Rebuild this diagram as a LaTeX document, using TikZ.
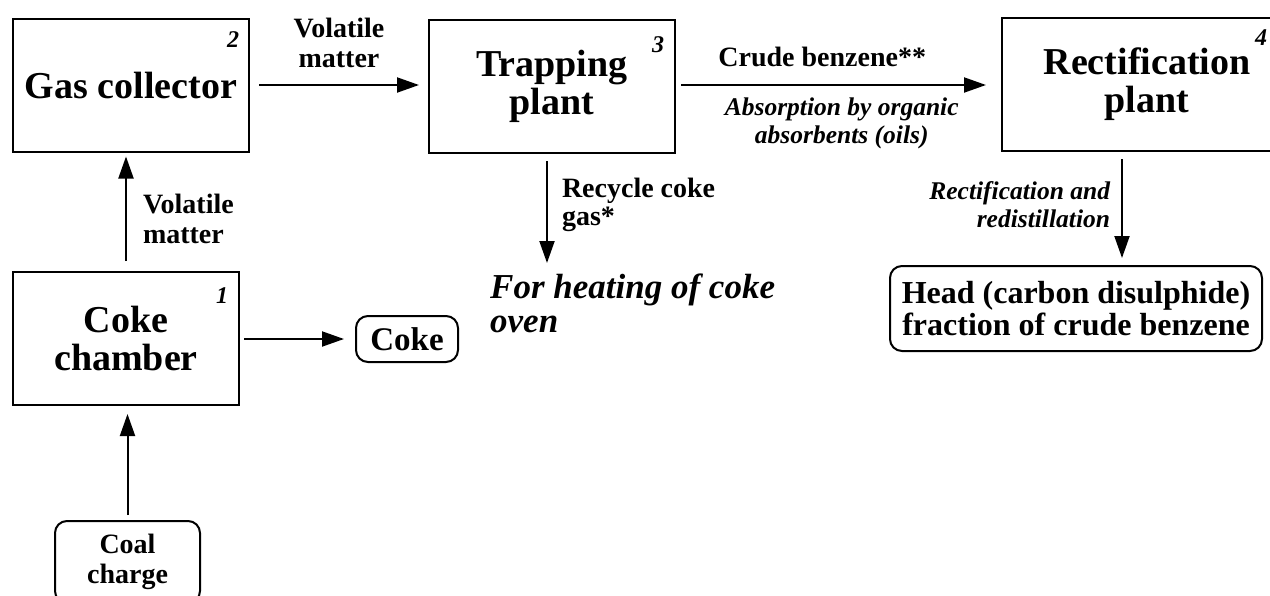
\documentclass[tikz,border=0pt]{standalone}
\usepackage{fontspec}
\setmainfont{Liberation Serif}
\usetikzlibrary{arrows.meta,positioning,calc}

\begin{document}
\begin{tikzpicture}[
        x=1pt, y=-1pt,
        unit/.style={
            draw=black,
            line width=2pt,
            align=center,
            inner sep=0pt,
            font=\fontsize{38}{38}\selectfont\bfseries
        },
        stream/.style={
            draw=black,
            line width=2pt,
            rounded corners=12pt,
            align=center,
            inner sep=0pt,
            font=\fontsize{32}{32}\selectfont\bfseries
        },
        flow/.style={line width=2pt, -{Triangle[length=22pt, width=15pt]}},
        lbl/.style={align=left, inner sep=0pt, font=\fontsize{28}{30}\selectfont\bfseries},
        note/.style={inner sep=0pt, font=\fontsize{25.5}{28}\selectfont\bfseries\itshape},
        num/.style={inner sep=0pt, font=\fontsize{24}{24}\selectfont\bfseries\itshape}
    ]
        \useasboundingbox (0,0) rectangle (1270,595);
        \fill[white] (0,0) rectangle (1270,595);

        \node[unit, minimum width=236, minimum height=133] (gas)     at (131,85)    {Gas collector};
        \node[unit, minimum width=246, minimum height=133] (trap)    at (552,86.5)  {Trapping\\plant};
        \node[unit, minimum width=290, minimum height=133] (rect)    at (1147,84.5) {Rectification\\plant};
        \node[unit, minimum width=226, minimum height=133] (chamber) at (126,338.5) {Coke\\chamber};

        \node[stream, minimum width=145, minimum height=82, font=\fontsize{28}{30}\selectfont\bfseries] (coal) at (127.5,562) {Coal\\charge};
        \node[stream, minimum width=102, minimum height=46, font=\fontsize{33}{33}\selectfont\bfseries] (coke) at (407,339) {Coke};
        \node[stream, minimum width=372, minimum height=85] (head) at (1076,308.5) {Head (carbon disulphide)\\fraction of crude benzene};

        \node[anchor=north west, inner sep=0pt, align=left, font=\fontsize{35}{34}\selectfont\bfseries\itshape] (heat) at (490,274) {For heating of coke\\oven};

        \node[num] (n1) at (222,296) {1};
        \node[num] (n2) at (233,40)  {2};
        \node[num] (n3) at (658,45)  {3};
        \node[num] (n4) at (1261,38) {4};

        \draw[flow, shorten <=10pt, shorten >=4pt] (chamber.north) -- (chamber.north |- gas.south)
            node[lbl, pos=0.44, right=16pt] {Volatile\\matter};
        \draw[flow, shorten <=5pt, shorten >=8pt] (coal.north) -- (coal.north |- chamber.south);
        \draw[flow, shorten <=4pt, shorten >=11pt] (chamber.east |- coke.west) -- (coke.west);
        \draw[flow, shorten <=9pt, shorten >=9pt] (gas.east) -- (gas.east -| trap.west)
            node[lbl, midway, above=16pt, align=center] {Volatile\\matter};
        \draw[flow, shorten <=5pt, shorten >=15pt] (trap.east |- gas.east) -- (gas.east -| rect.west)
            node[lbl, pos=0.45, above=17pt] {Crude benzene**}
            node[note, pos=0.51, below=12pt, align=center] {Absorption by organic\\absorbents (oils)};
        \draw[flow, shorten <=7pt, shorten >=11pt] ([xshift=-5pt]trap.south) -- ([xshift=-5pt]trap.south |- heat.north)
            node[lbl, pos=0.42, right=14pt, font=\fontsize{28}{28}\selectfont\bfseries] {Recycle coke\\gas*};
        \draw[flow, shorten <=7pt, shorten >=7pt] ([xshift=-25pt]rect.south) -- ([xshift=-25pt]rect.south |- head.north)
            node[note, pos=0.47, left=11pt, align=right] {Rectification and\\redistillation};
    \end{tikzpicture}
\end{document}
